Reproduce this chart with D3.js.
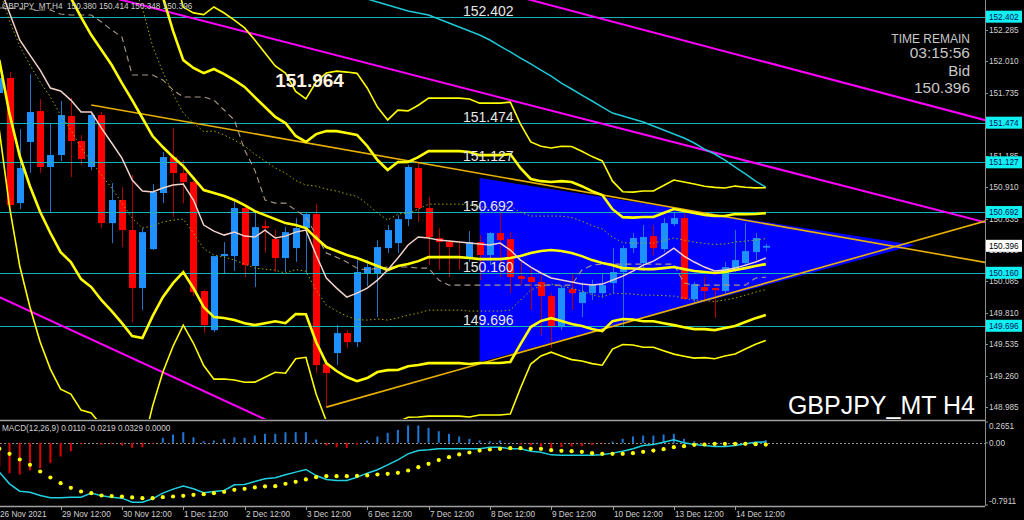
<!DOCTYPE html>
<html><head><meta charset="utf-8">
<script src="https://cdn.jsdelivr.net/npm/d3@7"></script>
<style>html,body{margin:0;padding:0;background:#000;}svg{display:block;}</style>
</head><body>
<svg id="c" width="1024" height="520"></svg>
<script>
// ---------------- DATA ----------------
const symbolHeader = "GBPJPY_MT,H4  150.380 150.414 150.348 150.396";
const macdHeader = "MACD(12,26,9) 0.0110 -0.0219 0.0329 0.0000";
const xTickBars = [6,12,18,24,30,36,42,48,54,60,66,72];
const xTickLabels = ["29 Nov 12:00","30 Nov 12:00","1 Dec 12:00","2 Dec 12:00","3 Dec 12:00","6 Dec 12:00","7 Dec 12:00","8 Dec 12:00","9 Dec 12:00","10 Dec 12:00","13 Dec 12:00","14 Dec 12:00"];
const firstLabel = "26 Nov 2021";
const priceTicks = [152.285,152.010,151.735,151.460,151.185,150.910,150.635,150.360,150.085,149.810,149.535,149.260,148.985];
const macdTicks = [0.2651,0.00,-0.7911];
const macdTickText = ["0.2651","0.00","-0.7911"];
const levels = [152.402,151.474,151.127,150.692,150.160,149.696];
const bidPrice = 150.396;

const open = [151.734,151.865,150.770,151.305,151.576,151.086,151.191,151.532,151.313,151.086,
151.541,150.595,150.797,150.534,150.026,150.367,150.858,151.173,151.033,150.954,
150.000,149.658,150.306,150.306,150.727,150.219,150.569,150.455,150.289,150.376,
150.551,150.674,149.361,149.457,149.632,149.553,150.158,150.158,150.376,150.420,
150.630,151.077,150.727,150.464,150.429,150.306,150.289,150.429,150.315,150.508,
150.455,150.131,150.122,150.079,149.956,149.684,150.017,149.895,149.982,149.982,
150.070,150.167,150.376,150.245,150.481,150.367,150.586,150.639,149.930,150.035,
150.026,150.000,150.201,150.245,150.341,150.380];
const high = [151.891,151.918,151.418,151.900,151.681,151.471,151.664,151.690,151.366,151.567,
151.567,150.945,150.910,151.016,150.551,150.937,151.217,151.427,151.147,150.970,
150.010,150.306,150.429,150.797,150.753,150.692,150.622,150.534,150.560,150.639,
150.692,150.762,149.400,149.702,149.658,150.271,150.271,150.446,150.578,150.665,
151.103,151.121,150.823,150.551,150.446,150.429,150.525,150.490,150.516,150.692,
150.516,150.271,150.210,150.140,149.982,150.052,150.158,150.079,150.100,150.158,
150.376,150.400,150.508,150.578,150.578,150.639,150.692,150.692,150.079,150.122,
150.035,150.254,150.534,150.595,150.508,150.414];
const low = [151.716,150.718,150.718,151.033,151.033,150.683,151.138,150.998,151.103,151.059,
150.551,150.420,150.385,149.728,149.833,150.359,150.770,150.648,150.770,149.956,
149.632,149.641,150.158,150.175,150.122,150.035,150.333,150.167,150.167,150.254,
150.158,149.282,148.985,149.352,149.501,149.509,150.044,149.772,150.333,150.333,
150.569,150.604,150.227,150.184,150.122,150.184,150.254,150.096,150.227,150.122,
149.982,150.052,149.833,149.615,149.501,149.658,149.833,149.772,149.921,149.947,
149.982,149.684,150.333,150.201,150.315,150.341,150.569,149.921,149.895,149.903,
149.763,149.982,150.167,150.219,150.271,150.348];
const close = [151.865,150.753,151.077,151.567,151.086,151.191,151.541,151.313,151.156,151.541,
150.595,150.797,150.534,150.026,150.516,150.867,151.173,151.033,150.954,149.991,
149.702,150.306,150.324,150.727,150.227,150.560,150.551,150.289,150.516,150.551,
150.674,149.352,149.282,149.632,149.553,150.167,150.210,150.385,150.534,150.630,
151.086,150.727,150.473,150.429,150.385,150.289,150.429,150.315,150.508,150.446,
150.122,150.105,150.079,149.956,149.684,150.026,149.982,149.991,150.052,150.052,
150.167,150.376,150.464,150.473,150.376,150.595,150.639,149.930,150.061,150.000,
150.008,150.210,150.271,150.350,150.464,150.396];

const bbMid = [153.249,153.179,153.108,153.038,152.968,152.890,152.741,152.566,152.399,152.241,
152.110,151.979,151.821,151.672,151.515,151.357,151.261,151.173,151.094,150.989,
150.884,150.858,150.832,150.797,150.753,150.700,150.665,150.630,150.595,150.578,
150.551,150.464,150.385,150.350,150.315,150.289,150.254,150.219,150.184,150.219,
150.236,150.262,150.297,150.297,150.297,150.297,150.289,150.280,150.280,150.280,
150.289,150.306,150.333,150.350,150.359,150.350,150.333,150.306,150.271,150.245,
150.227,150.201,150.197,150.192,150.192,150.201,150.210,150.192,150.175,150.167,
150.158,150.167,150.184,150.201,150.219,150.236];
const bbSigma = [0.613,0.814,0.963,1.060,1.138,1.191,1.200,1.156,1.147,1.103,
1.095,1.077,1.051,1.033,0.963,0.788,0.657,0.552,0.464,0.482,
0.512,0.543,0.534,0.525,0.517,0.499,0.473,0.447,0.438,0.390,
0.377,0.455,0.508,0.525,0.534,0.539,0.508,0.464,0.438,0.455,
0.447,0.455,0.464,0.464,0.464,0.464,0.464,0.455,0.455,0.455,
0.455,0.385,0.324,0.306,0.298,0.306,0.311,0.306,0.302,0.298,
0.245,0.223,0.223,0.228,0.228,0.241,0.254,0.254,0.254,0.250,
0.250,0.245,0.245,0.236,0.228,0.223];
const fastMA = [152.679,152.434,152.198,152.066,151.935,151.777,151.751,151.672,151.567,151.567,
151.427,151.296,151.164,150.972,150.875,150.867,150.902,150.928,150.937,150.797,
150.578,150.525,150.490,150.516,150.481,150.473,150.534,150.464,150.481,150.516,
150.534,150.315,150.114,150.026,149.947,149.982,150.026,150.096,150.184,150.289,
150.403,150.473,150.464,150.446,150.438,150.429,150.420,150.411,150.403,150.420,
150.359,150.271,150.210,150.158,150.114,150.096,150.079,150.061,150.052,150.061,
150.096,150.131,150.175,150.227,150.262,150.315,150.376,150.306,150.254,150.210,
150.175,150.184,150.201,150.227,150.254,150.289];
const baseLine = [152.478,152.478,152.469,152.469,152.460,152.460,152.425,152.417,152.417,152.417,
152.355,152.285,152.224,151.891,151.891,151.891,151.848,151.760,151.699,151.699,
151.699,151.672,151.585,151.497,151.235,151.059,150.797,150.770,150.770,150.709,
150.648,150.490,150.333,150.297,150.254,150.201,150.184,150.201,150.210,150.210,
150.210,150.201,150.201,150.096,150.052,150.052,150.052,150.052,150.052,150.052,
150.052,150.052,150.052,150.052,150.052,150.052,150.052,150.184,150.227,150.236,
150.236,150.236,150.236,150.236,150.236,150.236,150.236,150.070,150.052,150.052,
150.052,150.052,150.052,150.052,150.114,150.122];
const slowMAStart = 34;
const slowMA = [152.618,152.592,152.557,152.530,152.504,152.478,152.452,152.434,152.417,152.382,
152.347,152.312,152.277,152.242,152.198,152.145,152.093,152.040,151.988,151.935,
151.882,151.821,151.769,151.716,151.664,151.611,151.558,151.532,151.506,151.480,
151.445,151.410,151.375,151.340,151.296,151.243,151.200,151.147,151.086,151.025,
150.963,150.910];

const macdMain = [-0.373,-0.522,-0.615,-0.628,-0.670,-0.700,-0.700,-0.691,-0.691,-0.640,
-0.674,-0.691,-0.704,-0.755,-0.755,-0.712,-0.640,-0.589,-0.551,-0.585,
-0.636,-0.619,-0.606,-0.534,-0.530,-0.492,-0.458,-0.445,-0.407,-0.373,
-0.339,-0.416,-0.467,-0.479,-0.479,-0.437,-0.386,-0.343,-0.280,-0.216,
-0.140,-0.098,-0.089,-0.076,-0.076,-0.076,-0.076,-0.076,-0.055,-0.055,
-0.076,-0.076,-0.106,-0.119,-0.153,-0.157,-0.157,-0.157,-0.157,-0.153,
-0.131,-0.106,-0.076,-0.034,-0.021,0.008,0.038,0.000,-0.021,-0.034,
-0.047,-0.047,-0.034,-0.013,0.008,0.011];
const macdSignal = [-0.076,-0.140,-0.212,-0.280,-0.365,-0.441,-0.513,-0.572,-0.619,-0.640,
-0.670,-0.678,-0.683,-0.695,-0.704,-0.704,-0.691,-0.683,-0.674,-0.661,
-0.653,-0.640,-0.623,-0.598,-0.585,-0.568,-0.555,-0.551,-0.521,-0.496,
-0.466,-0.437,-0.424,-0.424,-0.424,-0.420,-0.415,-0.403,-0.394,-0.382,
-0.352,-0.310,-0.267,-0.220,-0.182,-0.148,-0.123,-0.098,-0.085,-0.076,
-0.068,-0.068,-0.076,-0.076,-0.093,-0.102,-0.106,-0.114,-0.131,-0.140,
-0.140,-0.140,-0.131,-0.114,-0.098,-0.081,-0.055,-0.042,-0.025,-0.021,
-0.013,-0.013,-0.013,-0.013,-0.017,-0.022];
const macdHist = [-0.300,-0.387,-0.403,-0.352,-0.323,-0.259,-0.174,-0.107,-0.013,-0.003,
-0.022,-0.013,-0.034,-0.064,-0.056,-0.013,0.064,0.106,0.135,0.071,
0.020,0.029,0.051,0.071,0.064,0.093,0.115,0.115,0.135,0.135,
0.135,0.042,-0.034,-0.056,-0.064,-0.022,0.029,0.080,0.127,0.165,
0.221,0.221,0.191,0.148,0.114,0.081,0.051,0.030,0.021,0.030,
0.004,-0.021,-0.034,-0.047,-0.064,-0.055,-0.047,-0.042,-0.025,-0.008,
0.017,0.051,0.081,0.093,0.093,0.106,0.114,0.051,0.021,-0.034,
-0.038,-0.034,-0.025,-0.021,-0.004,0.033];

// drawn objects: [bar, price] anchors
const channelUpper = [[12,152.548],[75,151.096]];
const channelUpper2 = [[52,152.548],[75,152.004]];
const channelLower = [[0,149.947],[26,148.877]];
const triUpper = [[9,151.629],[75,150.589]];
const triLower = [[32,148.984],[75,150.070]];
const triangle = [[47,150.989],[47,149.378],[89.6,150.403]];
const highMark = {text:"151.964", bar:27};

// ---------------- LAYOUT ----------------
const svg = d3.select("#c");
const axisX = 985, mainBottom = 419, macdTop = 422, macdBottom = 505, xAxisY = 506;
const nBars = close.length;
const x = d3.scaleLinear().domain([0, nBars-1]).range([-0.7, 765.8]);
const y = d3.scaleLinear().domain([148.880, 152.548]).range([mainBottom, 0]);
const ym = d3.scaleLinear().domain([-0.7911, 0.2651]).range([macdBottom, macdTop]);
const font = "'Liberation Sans', Arial, sans-serif";

svg.append("rect").attr("width",1024).attr("height",520).attr("fill","#000");
const defs = svg.append("defs");
defs.append("clipPath").attr("id","cm").append("rect").attr("x",0).attr("y",0).attr("width",axisX).attr("height",mainBottom);
defs.append("clipPath").attr("id","cd").append("rect").attr("x",0).attr("y",macdTop-1).attr("width",axisX).attr("height",macdBottom-macdTop+2);

const main = svg.append("g").attr("clip-path","url(#cm)");
const sub = svg.append("g").attr("clip-path","url(#cd)");

// triangle (background object)
main.append("path")
  .attr("d", d3.line().x(d=>x(d[0])).y(d=>y(d[1]))(triangle) + "Z")
  .attr("fill","#0000FF");

// candles
const idx = d3.range(nBars);
const cg = main.append("g");
idx.forEach(i=>{
  const bull = close[i] >= open[i];
  const cx = Math.round(x(i)) + 0.5;
  cg.append("line").attr("x1",cx).attr("x2",cx).attr("y1",y(high[i])).attr("y2",y(low[i]))
    .attr("stroke", bull ? "#2272c8" : "#b00000").attr("stroke-width",1);
  const top = y(Math.max(open[i],close[i])), bot = y(Math.min(open[i],close[i]));
  cg.append("rect").attr("x",Math.round(x(i))-3).attr("y",top).attr("width",7)
    .attr("height",Math.max(1.2,bot-top)).attr("fill", bull ? "#1E90FF" : "#FF0000");
});

// horizontal levels
levels.forEach(v=>{
  main.append("line").attr("x1",0).attr("x2",axisX).attr("y1",Math.round(y(v))+0.5).attr("y2",Math.round(y(v))+0.5)
    .attr("stroke","#14b4b8").attr("stroke-width",1);
});

// trend lines extended across the chart
function ray(anchors, extendLeft, color, width){
  const [a,b] = anchors;
  const slope = (b[1]-a[1])/(b[0]-a[0]);
  const x0 = extendLeft ? -2 : a[0];
  const x1 = x.invert(axisX+5);
  main.append("line")
    .attr("x1",x(x0)).attr("y1",y(a[1]+slope*(x0-a[0])))
    .attr("x2",x(x1)).attr("y2",y(a[1]+slope*(x1-a[0])))
    .attr("stroke",color).attr("stroke-width",width);
}
ray(channelUpper, true, "#FF00FF", 2);
ray(channelUpper2, true, "#FF00FF", 2);
ray(channelLower, true, "#FF00FF", 2);
ray(triUpper, false, "#E8B000", 1.6);
ray(triLower, false, "#E8B000", 1.6);

// indicator lines
function series(vals, offset){ return vals.map((v,k)=>[k+(offset||0), v]); }
const ln = d3.line().x(d=>x(d[0])).y(d=>y(d[1]));
function band(k){ return idx.map(i=>[i, bbMid[i] + k*bbSigma[i]]); }

main.append("path").attr("d", ln(series(slowMA, slowMAStart))).attr("fill","none").attr("stroke","#1ec8d8").attr("stroke-width",1.5);
main.append("path").attr("d", ln(series(baseLine))).attr("fill","none").attr("stroke","#a89888").attr("stroke-width",1.1).attr("stroke-dasharray","6,4");
[-1,1].forEach(k=>{
  main.append("path").attr("d", ln(band(k))).attr("fill","none").attr("stroke","#a8a800").attr("stroke-width",1).attr("stroke-dasharray","1.5,2.5");
});
[-3,3].forEach(k=>{
  main.append("path").attr("d", ln(band(k))).attr("fill","none").attr("stroke","#FFFF00").attr("stroke-width",1.6);
});
[-2,0,2].forEach(k=>{
  main.append("path").attr("d", ln(band(k))).attr("fill","none").attr("stroke","#FFFF00").attr("stroke-width",2.6);
});
main.append("path").attr("d", ln(series(fastMA))).attr("fill","none").attr("stroke","#f2d2c8").attr("stroke-width",1.5);

// level labels
levels.forEach(v=>{
  main.append("text").attr("x",463).attr("y",Math.round(y(v))-1).text(v.toFixed(3))
    .attr("font-family",font).attr("font-size",14).attr("fill","#e8e8e8");
});
main.append("text").attr("x",x(highMark.bar)).attr("y",87).text(highMark.text)
  .attr("font-family",font).attr("font-size",19).attr("font-weight","bold").attr("fill","#fff4e0");

// header / info texts
svg.append("text").attr("x",2).attr("y",9).text(symbolHeader).attr("font-family",font).attr("font-size",8.2).attr("fill","#cfcfcf").style("white-space","pre");
const info = [["TIME REMAIN",43,12],["03:15:56",58,15.5],["Bid",76,15],[bidPrice.toFixed(3),93,15.5]];
info.forEach(t=>svg.append("text").attr("x",970).attr("y",t[1]).attr("text-anchor","end").text(t[0])
  .attr("font-family",font).attr("font-size",t[2]).attr("fill","#c8c8c8"));
svg.append("text").attr("x",975).attr("y",414).attr("text-anchor","end").text("GBPJPY_MT H4")
  .attr("font-family",font).attr("font-size",25).attr("fill","#ffffff");

// ---------------- MACD ----------------
sub.append("line").attr("x1",0).attr("x2",axisX).attr("y1",Math.round(ym(0))+0.5).attr("y2",Math.round(ym(0))+0.5)
  .attr("stroke","#909090").attr("stroke-dasharray","2,2");
idx.forEach(i=>{
  const v = macdHist[i];
  sub.append("line").attr("x1",x(i)).attr("x2",x(i)).attr("y1",ym(0)).attr("y2",ym(v))
    .attr("stroke", v>=0 ? "#1E78D8" : "#E00000").attr("stroke-width",2);
});
sub.append("path").attr("d", d3.line().x(d=>x(d[0])).y(d=>ym(d[1]))(series(macdMain)))
  .attr("fill","none").attr("stroke","#20d0e0").attr("stroke-width",1.5);
sub.selectAll("circle.sig").data(idx).enter().append("circle")
  .attr("cx",i=>x(i)).attr("cy",i=>ym(macdSignal[i])).attr("r",2.1).attr("fill","#FFFF00");
svg.append("text").attr("x",2).attr("y",431).text(macdHeader).attr("font-family",font).attr("font-size",8.2).attr("fill","#cfcfcf");

// ---------------- AXES ----------------
const axisCol = "#8c8c8c";
svg.append("line").attr("x1",axisX+0.5).attr("x2",axisX+0.5).attr("y1",0).attr("y2",xAxisY).attr("stroke",axisCol);
svg.append("line").attr("x1",0).attr("x2",axisX).attr("y1",420.5).attr("y2",420.5).attr("stroke","#a0a0a0").attr("stroke-width",1.5);
svg.append("line").attr("x1",0).attr("x2",axisX).attr("y1",xAxisY+0.5).attr("y2",xAxisY+0.5).attr("stroke","#a0a0a0").attr("stroke-width",1.5);

const tickTxt = {family:font, size:8.2, fill:"#d0d0d0"};
priceTicks.forEach(v=>{
  const yy = Math.round(y(v));
  svg.append("line").attr("x1",axisX).attr("x2",axisX+3).attr("y1",yy+0.5).attr("y2",yy+0.5).attr("stroke",axisCol);
  svg.append("text").attr("x",989).attr("y",yy+3).text(v.toFixed(3))
    .attr("font-family",tickTxt.family).attr("font-size",tickTxt.size).attr("fill",tickTxt.fill);
});
levels.forEach(v=>{
  const yy = y(v);
  svg.append("rect").attr("x",986).attr("y",yy-6).attr("width",36).attr("height",12).attr("fill","#10f0f0");
  svg.append("text").attr("x",989).attr("y",yy+3).text(v.toFixed(3))
    .attr("font-family",font).attr("font-size",8.2).attr("fill","#001060");
});
svg.append("rect").attr("x",986).attr("y",y(bidPrice)-6).attr("width",36).attr("height",12).attr("fill","#ffffff");
svg.append("text").attr("x",989).attr("y",y(bidPrice)+3).text(bidPrice.toFixed(3))
  .attr("font-family",font).attr("font-size",8.2).attr("fill","#000");

macdTicks.forEach((v,k)=>{
  const yy = Math.min(Math.max(ym(v)+3, macdTop+7), macdBottom-1);
  svg.append("line").attr("x1",axisX).attr("x2",axisX+3).attr("y1",ym(v)).attr("y2",ym(v)).attr("stroke",axisCol);
  svg.append("text").attr("x",989).attr("y",yy).text(macdTickText[k])
    .attr("font-family",font).attr("font-size",8.2).attr("fill","#d0d0d0");
});

xTickBars.forEach((b,k)=>{
  const xx = Math.round(x(b))+0.5;
  svg.append("line").attr("x1",xx).attr("x2",xx).attr("y1",xAxisY).attr("y2",xAxisY+4).attr("stroke","#a0a0a0");
  svg.append("text").attr("x",xx+0.5).attr("y",517).text(xTickLabels[k])
    .attr("font-family",font).attr("font-size",8.2).attr("fill","#d0d0d0");
});
svg.append("text").attr("x",0).attr("y",517).text(firstLabel).attr("font-family",font).attr("font-size",8.2).attr("fill","#d0d0d0");
</script>
</body></html>
